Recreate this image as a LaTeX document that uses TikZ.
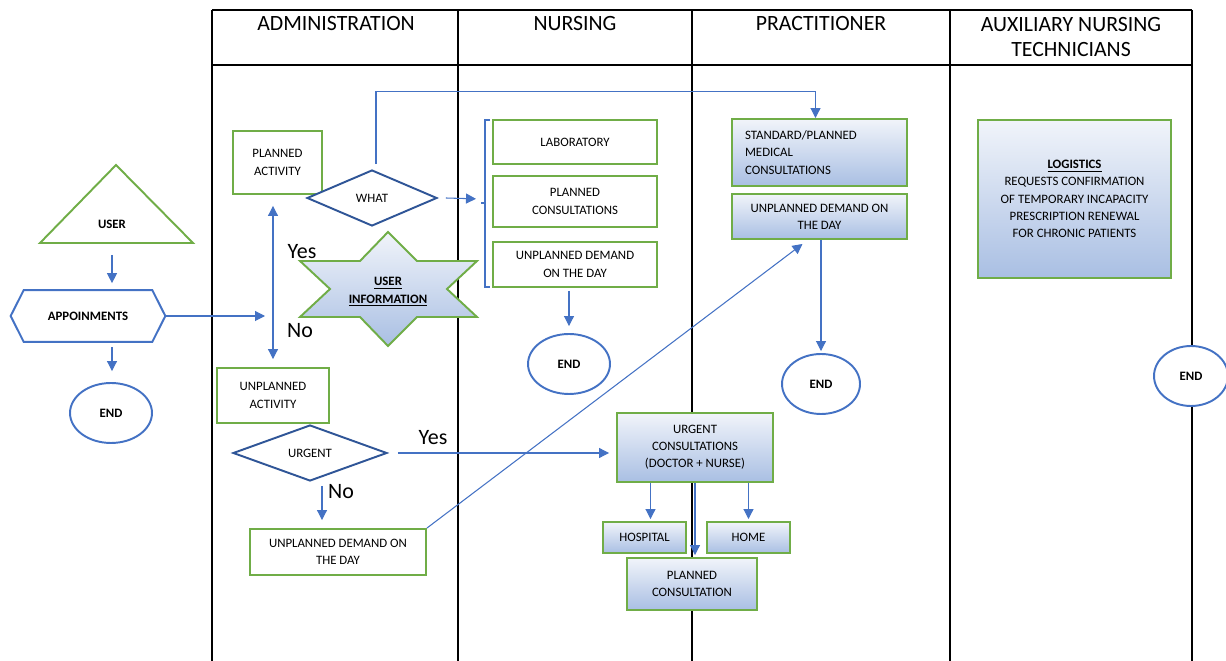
\documentclass[tikz,border=0pt]{standalone}
\usepackage{fontspec}
\setmainfont{Carlito}
\usepackage{tikz}
\usepackage{xcolor}
\usetikzlibrary{shapes, shapes.geometric, arrows.meta, positioning, calc}

\definecolor{boxgreen}{HTML}{70AD47}
\definecolor{linkblue}{HTML}{4472C4}
\definecolor{darkblue}{HTML}{2F5597}
\definecolor{gtop}{HTML}{F1F4FA}
\definecolor{gbot}{HTML}{A9BFE3}

\tikzset{
    >={Triangle[width=0.2cm, length=0.2cm]},
    whitebox/.style={rectangle, draw=boxgreen, line width=1.1pt, fill=white, align=center, inner sep=1pt, font=\fontsize{7.3}{9.8}\selectfont},
    gradbox/.style={whitebox, top color=gtop, bottom color=gbot},
    decision/.style={diamond, draw=darkblue, line width=1.1pt, fill=white, inner sep=0pt, font=\fontsize{7.3}{9.8}\selectfont},
    endoval/.style={ellipse, draw=linkblue, line width=1.1pt, fill=white, inner sep=0pt, font=\bfseries\fontsize{7.3}{9}\selectfont},
    flow/.style={draw=linkblue, line width=0.6pt, ->},
    laneline/.style={draw=black, line width=1.1pt},
    lanehead/.style={font=\fontsize{12.4}{14}\selectfont, align=center},
    yesno/.style={font=\fontsize{12.5}{14}\selectfont}
}

\begin{document}
\begin{tikzpicture}[x=0.02cm, y=-0.02cm]
        \useasboundingbox (0, 0) rectangle (1226, 661);

        % swimlanes
        \draw[laneline] (212, 10) -- (1192, 10)
            (212, 65) -- (1192, 65)
            (212, 10) -- (212, 661)
            (458, 10) -- (458, 661)
            (692, 10) -- (692, 661)
            (950, 10) -- (950, 661)
            (1192, 10) -- (1192, 661);
        \node[lanehead] (hadmin) at (336, 24) {ADMINISTRATION};
        \node[lanehead] (hnurse) at (575, 24) {NURSING};
        \node[lanehead] (hpract) at (821, 24) {PRACTITIONER};
        \node[lanehead] (haux) at (1071, 37) {AUXILIARY NURSING\\TECHNICIANS};

        % user side
        \draw[draw=boxgreen, line width=1.1pt] (40, 243) -- (116, 165) -- (193, 243) -- cycle;
        \node[font=\bfseries\fontsize{7.3}{9}\selectfont] (user) at (112, 224) {USER};
        \node[minimum width=3.08cm, minimum height=1.02cm, font=\bfseries\fontsize{7.3}{9}\selectfont] (appt) at (88, 316) {APPOINMENTS};
        \draw[draw=linkblue, line width=1.1pt] (appt.west) -- ([xshift=0.26cm]appt.north west) -- ([xshift=-0.26cm]appt.north east)
            -- (appt.east) -- ([xshift=-0.26cm]appt.south east) -- ([xshift=0.26cm]appt.south west) -- cycle;
        \node[endoval, minimum width=1.64cm, minimum height=1.2cm] (end1) at (111, 413) {END};

        % administration
        \node[whitebox, minimum width=1.78cm, minimum height=1.26cm] (plact) at (277.5, 162.5) {PLANNED\\ACTIVITY};
        \node[decision, minimum width=2.6cm, minimum height=1.12cm] (what) at (372, 198) {WHAT};
        \draw[draw=boxgreen, line width=1.1pt, top color=gtop, bottom color=gbot] (388, 232) -- (417, 261) -- (477, 261) -- (447, 289)
            -- (477, 317) -- (417, 317) -- (388, 346) -- (360, 317) -- (300, 317) -- (330, 289) -- (300, 261) -- (360, 261) -- cycle;
        \node[align=center, font=\bfseries\fontsize{7.3}{9.8}\selectfont] (info) at (388, 292) {\underline{USER}\\\underline{INFORMATION}};
        \node[whitebox, minimum width=2.24cm, minimum height=1.1cm] (unact) at (273, 395.5) {UNPLANNED\\ACTIVITY};
        \node[decision, minimum width=3.08cm, minimum height=1.12cm] (urgent) at (310, 453) {URGENT};
        \node[whitebox, minimum width=3.52cm, minimum height=0.92cm] (adday) at (338, 552) {UNPLANNED DEMAND ON\\THE DAY};
        \node[yesno] (yes1) at (302, 252) {Yes};
        \node[yesno] (no1) at (300, 331) {No};
        \node[yesno] (yes2) at (433, 438) {Yes};
        \node[yesno] (no2) at (341, 492) {No};

        % nursing
        \node[whitebox, minimum width=3.28cm, minimum height=0.88cm] (lab) at (575, 142) {LABORATORY};
        \node[whitebox, minimum width=3.28cm, minimum height=1.02cm] (plcons) at (575, 201.5) {PLANNED\\CONSULTATIONS};
        \node[whitebox, minimum width=3.28cm, minimum height=0.9cm] (nday) at (575, 264.5) {UNPLANNED DEMAND\\ON THE DAY};
        \draw[draw=linkblue, line width=0.6pt] (490, 120) -- (485, 120) -- (485, 287) -- (490, 287)
            (485, 203) -- (481, 203);
        \coordinate (bracket) at (481, 199);
        \node[endoval, minimum width=1.64cm, minimum height=1.2cm] (end2) at (569, 364) {END};

        % practitioner
        \node[gradbox, text width=2.98cm, align=left, inner xsep=0.26cm, minimum height=1.34cm] (stdcons) at (819.5, 152.5) {STANDARD/PLANNED\\MEDICAL\\CONSULTATIONS};
        \node[gradbox, minimum width=3.5cm, minimum height=0.9cm] (pday) at (819.5, 216.5) {UNPLANNED DEMAND ON\\THE DAY};
        \node[endoval, minimum width=1.56cm, minimum height=1.2cm] (end3) at (821, 384) {END};
        \node[gradbox, minimum width=3.12cm, minimum height=1.38cm] (urgcons) at (695, 447.5) {URGENT\\CONSULTATIONS\\(DOCTOR + NURSE)};
        \node[gradbox, minimum width=1.66cm, minimum height=0.62cm] (hosp) at (644.5, 537.5) {HOSPITAL};
        \node[gradbox, minimum width=1.66cm, minimum height=0.62cm] (home) at (748.5, 537.5) {HOME};
        \node[gradbox, minimum width=2.6cm, minimum height=1.04cm] (plcon) at (692, 584) {PLANNED\\CONSULTATION};

        % auxiliary nursing technicians
        \node[gradbox, minimum width=3.86cm, minimum height=3.16cm] (logist) at (1074.5, 199) {\textbf{\underline{LOGISTICS}}\\REQUESTS CONFIRMATION\\OF TEMPORARY INCAPACITY\\PRESCRIPTION RENEWAL\\FOR CHRONIC PATIENTS};
        \node[endoval, minimum width=1.48cm, minimum height=1.2cm] (end4) at (1191, 376) {END};

        \coordinate (split) at (273, 316);
        \draw[flow] ($(user)+(0, 31)$) -- ($(appt.north -| user)+(0, -7)$);
        \draw[flow] ($(appt.south -| user)+(0, 5)$) -- ($(end1.north -| user)+(0, -11)$);
        \draw[flow, shorten >=0.16cm] (appt.east) -- (split);
        \draw[flow, <->] ($(plact.south -| unact)+(0, 11)$) -- ($(unact.north)+(0, -8)$);
        \draw[flow] ($(what.north)+(4, -5)$) |- ($(stdcons.north)+(-4, -27)$) -- ($(stdcons.north)+(-4, 0)$);
        \draw[flow, shorten >=0.1cm] ($(what.east)+(8, 0)$) -- (bracket);
        \draw[flow] ($(nday.south -| end2)+(0, 3)$) -- ($(end2.north)+(0, -7)$);
        \draw[flow] ($(urgent.east)+(10, 0)$) -- ($(urgcons.west |- urgent)+(-7, 0)$);
        \draw[flow] ($(urgent.south)+(12, 4)$) -- ($(adday.north -| urgent)+(12, -8)$);
        \draw[flow] (adday.north east) -- ($(pday.south)+(-17, 4)$);
        \draw[flow] (pday.south -| end3) -- ($(end3.north)+(0, -2)$);
        \draw[flow] ($(urgcons.south -| hosp)+(6, 0)$) -- ($(hosp.north)+(6, -2)$);
        \draw[flow] (urgcons.south -| home) -- ($(home.north)+(0, -2)$);
        \draw[flow] (urgcons.south) -- ($(urgcons.south |- plcon.north)+(0, -2)$);
    \end{tikzpicture}
\end{document}
